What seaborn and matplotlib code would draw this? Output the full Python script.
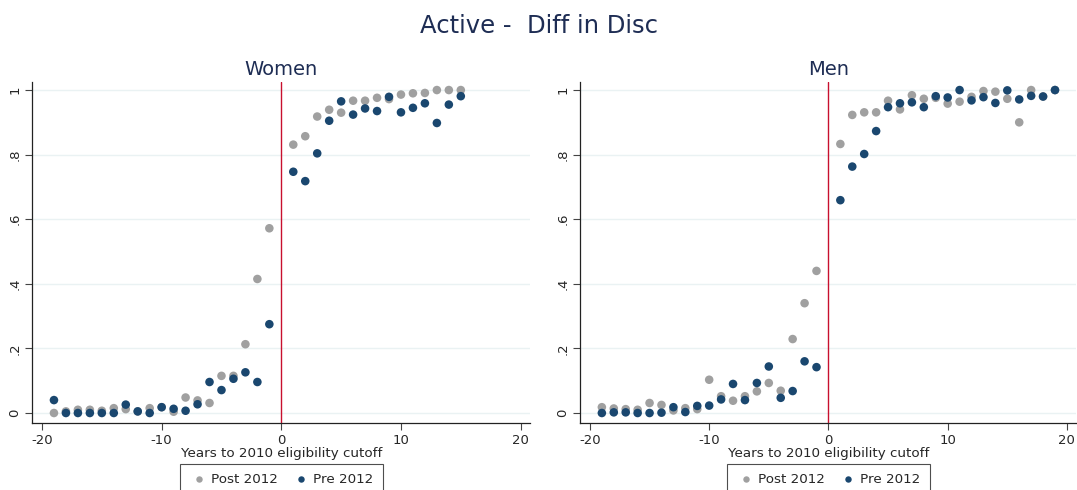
import matplotlib
matplotlib.use("Agg")
import matplotlib.pyplot as plt
import seaborn as sns
import numpy as np
import pandas as pd

# Women: years -19..15
women_years = list(range(-19, 16))
women_post = [0.0, 0.005, 0.01, 0.01, 0.007, 0.015, 0.012, 0.005, 0.015, 0.018,
              0.004, 0.048, 0.039, 0.031, 0.115, 0.115, 0.213, 0.415, 0.572,
              0.831, 0.857, 0.918, 0.939, 0.930, 0.967, 0.967, 0.976, 0.972,
              0.986, 0.990, 0.991, 1.0, 1.0, 1.0]
women_pre = [0.040, 0.0, 0.0, 0.0, 0.0, 0.0, 0.026, 0.005, 0.0, 0.018,
             0.013, 0.007, 0.027, 0.096, 0.071, 0.106, 0.126, 0.096, 0.275,
             0.747, 0.718, 0.804, 0.905, 0.965, 0.924, 0.943, 0.935, 0.979,
             0.931, 0.945, 0.959, 0.898, 0.955, 0.981]
# year 0 is not in the data
women_years = [y for y in women_years if y != 0]

# Men: years -19..19
men_years = [y for y in range(-19, 20) if y != 0]
men_post = [0.018, 0.014, 0.012, 0.010, 0.031, 0.025, 0.008, 0.015, 0.012, 0.103,
            0.052, 0.038, 0.052, 0.067, 0.093, 0.069, 0.229, 0.340, 0.440,
            0.833, 0.923, 0.931, 0.931, 0.967, 0.940, 0.984, 0.973, 0.976,
            0.958, 0.964, 0.979, 0.997, 0.995, 0.973, 0.900, 1.0, 0.98, 1.0]
men_pre = [0.0, 0.002, 0.002, 0.0, 0.0, 0.001, 0.018, 0.003, 0.022, 0.023,
           0.042, 0.090, 0.040, 0.093, 0.144, 0.047, 0.068, 0.160, 0.142,
           0.659, 0.763, 0.802, 0.873, 0.947, 0.959, 0.962, 0.947, 0.981,
           0.977, 1.0, 0.968, 0.978, 0.960, 0.999, 0.971, 0.982, 0.980, 1.0]

groups = ["Post 2012", "Pre 2012"]
renkler = {"Post 2012": "#a0a0a0", "Pre 2012": "#1a476f"}
yticks = [0, 0.2, 0.4, 0.6, 0.8, 1.0]
ytick_labels = ["0", ".2", ".4", ".6", ".8", "1"]
xticks = [-20, -10, 0, 10, 20]


def uzun_tablo(years, post, pre):
    df_post = pd.DataFrame({"years": years, "share": post, "group": "Post 2012"})
    df_pre = pd.DataFrame({"years": years, "share": pre, "group": "Pre 2012"})
    return pd.concat([df_post, df_pre], ignore_index=True)


sns.set_style("white")
plt.rcParams["font.family"] = ["DejaVu Sans"]

fig = plt.figure(figsize=(10.77, 4.9), dpi=100)
ax_w = fig.add_axes([0.0301, 0.1367, 0.4622, 0.6960])
ax_m = fig.add_axes([0.5389, 0.1367, 0.4606, 0.6960])

panels = [(ax_w, "Women", uzun_tablo(women_years, women_post, women_pre)),
          (ax_m, "Men", uzun_tablo(men_years, men_post, men_pre))]

for ax, baslik, df in panels:
    ax.set_facecolor("white")
    for yv in yticks:
        ax.axhline(yv, color="#eaf2f3", lw=1.0, zorder=0)
    ax.axvline(0, color="#c8102e", lw=1.0, zorder=1)
    sns.scatterplot(data=df, x="years", y="share", hue="group", hue_order=groups,
                    palette=renkler, s=38, edgecolor="none", linewidth=0, ax=ax,
                    zorder=3)
    ax.set_xlim(-20.8, 20.8)
    ax.set_ylim(-0.031, 1.025)
    ax.set_xticks(xticks)
    ax.set_xticklabels([str(t) for t in xticks])
    ax.set_yticks(yticks)
    ax.set_yticklabels(ytick_labels, rotation=90, va="center")
    ax.tick_params(axis="both", direction="out", length=5, width=0.8,
                   labelsize=9.5, color="#444444", pad=3, left=True, bottom=True)
    for side in ["top", "right"]:
        ax.spines[side].set_visible(False)
    for side in ["left", "bottom"]:
        ax.spines[side].set_color("#222222")
        ax.spines[side].set_linewidth(0.9)
    ax.set_xlabel("Years to 2010 eligibility cutoff", fontsize=9.7, labelpad=0)
    ax.set_ylabel("")
    ax.set_title(baslik, fontsize=14, color="#1e2d54", pad=5)
    sns.move_legend(ax, "upper center", bbox_to_anchor=(0.5, -0.12), ncol=2,
                    title=None, frameon=True, fontsize=9.7, markerscale=0.75,
                    handletextpad=0.2, columnspacing=1.0, borderpad=0.7,
                    borderaxespad=0, handlelength=1.4,
                    fancybox=False, edgecolor="#222222")
    ax.get_legend().get_frame().set_linewidth(0.8)

fig.suptitle("Active -  Diff in Disc", fontsize=17.5, color="#1e2d54", y=0.972)

fig.savefig("out.png", dpi=100)
